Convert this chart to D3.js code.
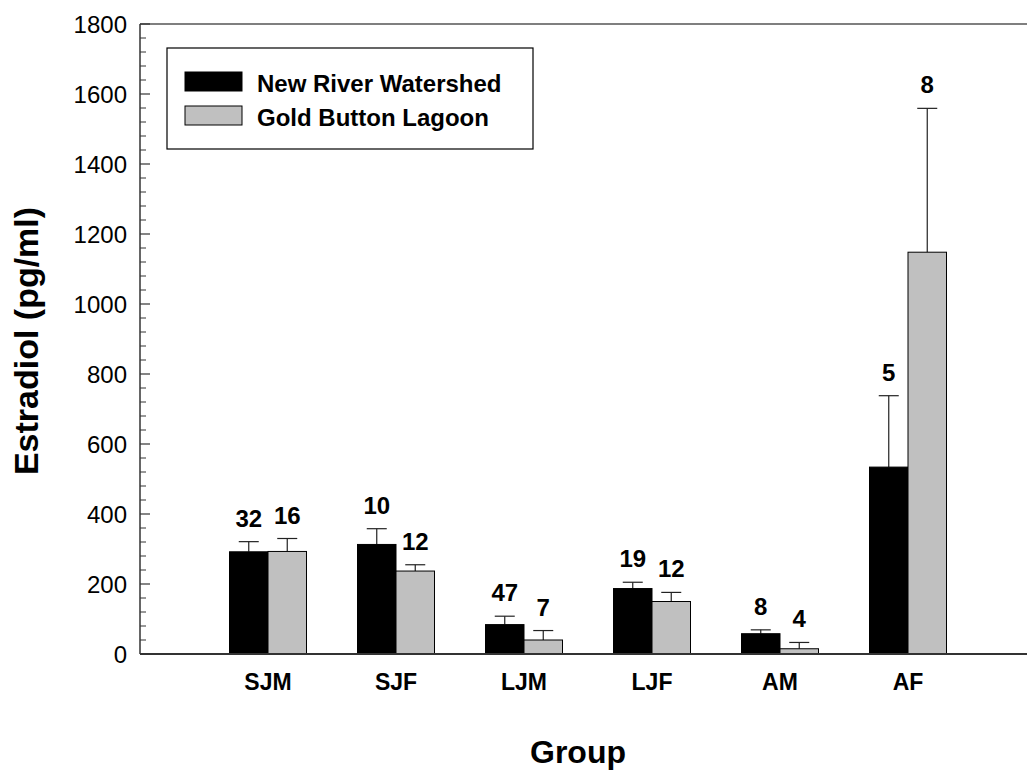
<!DOCTYPE html>
<html>
<head>
<meta charset="utf-8">
<script src="https://cdn.jsdelivr.net/npm/d3@7"></script>
<style>
  body { margin:0; background:#fff; }
  text { font-family: Arial, "Liberation Sans", sans-serif; }
</style>
</head>
<body>
<svg id="chart" width="1027" height="771"></svg>
<script>
var groups = ["SJM", "SJF", "LJM", "LJF", "AM", "AF"];
var seriesNames = ["New River Watershed", "Gold Button Lagoon"];
var riverMean = [292, 313, 84, 187, 58, 534];
var riverErr  = [29, 45, 24, 18, 11, 204];
var riverN    = [32, 10, 47, 19, 8, 5];
var lagoonMean = [293, 237, 40, 150, 15, 1148];
var lagoonErr  = [37, 18, 27, 26, 18, 411];
var lagoonN    = [16, 12, 7, 12, 4, 8];
var yTicks = [0, 200, 400, 600, 800, 1000, 1200, 1400, 1600, 1800];

var colors = ["#000000", "#c0c0c0"];

var svg = d3.select("#chart");
var plotLeft = 140, plotTop = 24, plotBottom = 654;
var barW = 38.5;

var xScale = d3.scaleLinear().domain([0, groups.length + 1]).range([plotLeft, plotLeft + 128 * (groups.length + 1)]);
var yScale = d3.scaleLinear().domain([0, 1800]).range([plotBottom, plotTop]);

var bars = [];
groups.forEach(function(g, i) {
    bars.push({g:i, s:0, v:riverMean[i], e:riverErr[i], n:riverN[i]});
    bars.push({g:i, s:1, v:lagoonMean[i], e:lagoonErr[i], n:lagoonN[i]});
});
var barX = function(d) { return xScale(d.g + 1) + (d.s === 0 ? -barW : 0); };
var barC = function(d) { return barX(d) + barW / 2; };

// error bars (upper only)
svg.append("g").selectAll("line.err")
    .data(bars).enter().append("line")
    .attr("x1", barC).attr("x2", barC)
    .attr("y1", function(d) { return yScale(d.v); })
    .attr("y2", function(d) { return yScale(d.v + d.e); })
    .attr("stroke", "#222").attr("stroke-width", 1.2);
svg.append("g").selectAll("line.cap")
    .data(bars).enter().append("line")
    .attr("x1", function(d) { return barC(d) - 10; })
    .attr("x2", function(d) { return barC(d) + 10; })
    .attr("y1", function(d) { return yScale(d.v + d.e); })
    .attr("y2", function(d) { return yScale(d.v + d.e); })
    .attr("stroke", "#222").attr("stroke-width", 1.2);

svg.append("g").selectAll("rect")
    .data(bars).enter().append("rect")
    .attr("x", barX)
    .attr("y", function(d) { return yScale(d.v); })
    .attr("width", barW)
    .attr("height", function(d) { return yScale(0) - yScale(d.v); })
    .attr("fill", function(d) { return colors[d.s]; })
    .attr("stroke", "#000").attr("stroke-width", 1);

// n labels
svg.append("g").selectAll("text")
    .data(bars).enter().append("text")
    .attr("x", barC)
    .attr("y", function(d) { return yScale(d.v + d.e) - 15; })
    .attr("text-anchor", "middle")
    .attr("font-size", 24).attr("font-weight", "bold")
    .text(function(d) { return d.n; });

// axes
var axes = svg.append("g");
axes.append("line").attr("x1", plotLeft).attr("x2", 1027).attr("y1", plotBottom).attr("y2", plotBottom)
    .attr("stroke", "#333").attr("stroke-width", 2);
axes.append("line").attr("x1", plotLeft).attr("x2", 1027).attr("y1", plotTop).attr("y2", plotTop)
    .attr("stroke", "#555").attr("stroke-width", 1.5);
axes.append("line").attr("x1", plotLeft).attr("x2", plotLeft).attr("y1", plotTop).attr("y2", plotBottom)
    .attr("stroke", "#333").attr("stroke-width", 1.5);

var minor = d3.range(0, 1801, 40).filter(function(v) { return v % 200 !== 0; });
axes.selectAll("line.minor").data(minor).enter().append("line")
    .attr("x1", plotLeft).attr("x2", plotLeft + 6)
    .attr("y1", function(d) { return yScale(d); }).attr("y2", function(d) { return yScale(d); })
    .attr("stroke", "#333").attr("stroke-width", 1);
axes.selectAll("line.major").data(yTicks).enter().append("line")
    .attr("x1", plotLeft).attr("x2", plotLeft + 10)
    .attr("y1", function(d) { return yScale(d); }).attr("y2", function(d) { return yScale(d); })
    .attr("stroke", "#333").attr("stroke-width", 1.2);
axes.selectAll("text.ytick").data(yTicks).enter().append("text")
    .attr("x", plotLeft - 13)
    .attr("y", function(d) { return yScale(d) + 8.5; })
    .attr("text-anchor", "end")
    .attr("font-size", 24)
    .text(function(d) { return d; });

axes.selectAll("text.xtick").data(groups).enter().append("text")
    .attr("x", function(d, i) { return xScale(i + 1); })
    .attr("y", 690)
    .attr("text-anchor", "middle")
    .attr("font-size", 23).attr("font-weight", "bold")
    .text(function(d) { return d; });

svg.append("text")
    .attr("x", 578).attr("y", 763)
    .attr("text-anchor", "middle")
    .attr("font-size", 32).attr("font-weight", "bold")
    .text("Group");

svg.append("text")
    .attr("transform", "translate(38,341) rotate(-90)")
    .attr("text-anchor", "middle")
    .attr("font-size", 34).attr("font-weight", "bold")
    .text("Estradiol (pg/ml)");

// legend
var legend = svg.append("g");
legend.append("rect").attr("x", 167).attr("y", 48).attr("width", 366).attr("height", 101)
    .attr("fill", "#fff").attr("stroke", "#000").attr("stroke-width", 1.2);
seriesNames.forEach(function(name, i) {
    legend.append("rect").attr("x", 185).attr("y", 72 + i * 34).attr("width", 57).attr("height", 19)
        .attr("fill", colors[i]).attr("stroke", "#000").attr("stroke-width", 1);
    legend.append("text").attr("x", 257).attr("y", 92 + i * 34)
        .attr("font-size", 24).attr("font-weight", "bold")
        .text(name);
});
</script>
</body>
</html>
